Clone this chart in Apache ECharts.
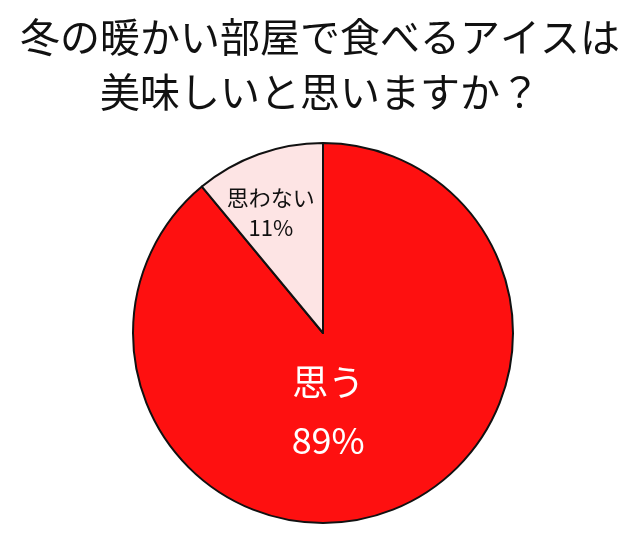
<!DOCTYPE html>
<html>
<head>
<meta charset="utf-8">
<script src="https://cdn.jsdelivr.net/npm/echarts@6/dist/echarts.min.js"></script>
<style>
  html, body { margin: 0; padding: 0; background: #fff; }
  #main { width: 640px; height: 533px; }
</style>
</head>
<body>
<div id="main"></div>
<script>
// データ
var titleLines = ['冬の暖かい部屋で食べるアイスは', '美味しいと思いますか？'];
var categories = ['思う', '思わない'];
var percents = [89, 11];
var sliceColors = ['#fe1010', '#fde4e4'];

var myChart = echarts.init(document.getElementById('main'));

var pieData = categories.map(function (name, i) {
    return {
        name: name,
        value: percents[i],
        itemStyle: { color: sliceColors[i] },
        label: i === 0
            ? { color: '#fff', fontSize: 36, lineHeight: 58 }
            : { color: '#111', fontSize: 22, lineHeight: 30 }
    };
});

var option = {
    backgroundColor: '#fff',
    animation: false,
    title: {
        text: titleLines.join('\n'),
        left: 'center',
        top: 4,
        textStyle: {
            fontFamily: 'Noto Sans CJK JP',
            fontSize: 40,
            fontWeight: 'normal',
            lineHeight: 55,
            color: '#111'
        }
    },
    series: [{
        type: 'pie',
        center: [323, 333],
        radius: 190,
        startAngle: 90,
        clockwise: true,
        data: pieData,
        itemStyle: { borderColor: '#111', borderWidth: 2 },
        emphasis: { disabled: true },
        label: {
            show: true,
            position: 'inside',
            fontFamily: 'Noto Sans CJK JP',
            formatter: '{b}\n{c}%'
        },
        labelLine: { show: false },
        labelLayout: function (params) {
            return params.dataIndex === 0 ? { dx: -28, dy: -14 } : { dx: -19, dy: -28 };
        }
    }]
};

myChart.setOption(option);
</script>
</body>
</html>
